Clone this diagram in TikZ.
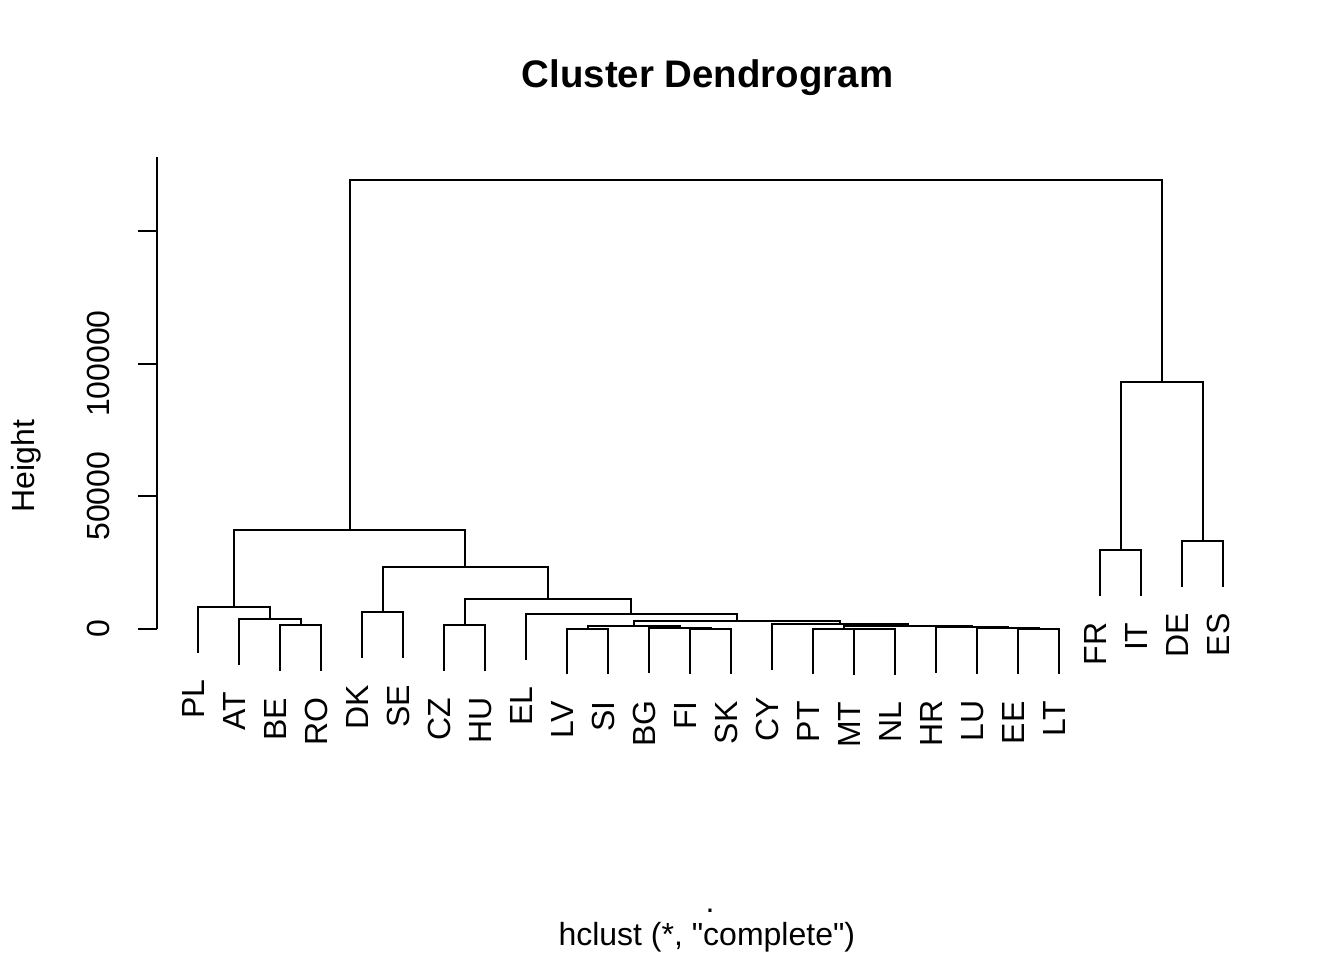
\documentclass[tikz,border=0pt]{standalone}
\usepackage{fontspec}
\setmainfont{Liberation Sans}
\newfontfamily\plainfont{Liberation Sans}
\begin{document}
\begin{tikzpicture}[x=20.5pt,y=13.27pt,line width=1pt]

		\tikzstyle{leaflabel}=[rotate=90,
		anchor=east,
		inner sep=0pt,
		font=\fontsize{16}{19}\selectfont
		]
		\tikzstyle{ticklabel}=[rotate=90,
		inner sep=0pt,
		font=\fontsize{16}{19}\selectfont
		]

		\useasboundingbox (-3.8293,-12.472) rectangle (28.9512,23.700);

		% leaf ends
		\coordinate (pPL) at (1, -0.89);
		\coordinate (pAT) at (2, -1.34);
		\coordinate (pBE) at (3, -1.57);
		\coordinate (pRO) at (4, -1.57);
		\coordinate (pDK) at (5, -1.08);
		\coordinate (pSE) at (6, -1.08);
		\coordinate (pCZ) at (7, -1.57);
		\coordinate (pHU) at (8, -1.57);
		\coordinate (pEL) at (9, -1.15);
		\coordinate (pLV) at (10, -1.71);
		\coordinate (pSI) at (11, -1.71);
		\coordinate (pBG) at (12, -1.67);
		\coordinate (pFI) at (13, -1.71);
		\coordinate (pSK) at (14, -1.71);
		\coordinate (pCY) at (15, -1.55);
		\coordinate (pPT) at (16, -1.705);
		\coordinate (pMT) at (17, -1.715);
		\coordinate (pNL) at (18, -1.715);
		\coordinate (pHR) at (19, -1.655);
		\coordinate (pLU) at (20, -1.685);
		\coordinate (pEE) at (21, -1.71);
		\coordinate (pLT) at (22, -1.71);
		\coordinate (pFR) at (23, 1.26);
		\coordinate (pIT) at (24, 1.26);
		\coordinate (pDE) at (25, 1.60);
		\coordinate (pES) at (26, 1.60);

		% merges
		\coordinate (mBERO) at (3.5, 0.15);
		\coordinate (mAT) at (2.75, 0.38);
		\coordinate (mPL) at (1.875, 0.83);
		\coordinate (mDKSE) at (5.5, 0.64);
		\coordinate (mCZHU) at (7.5, 0.15);
		\coordinate (mLVSI) at (10.5, 0.01);
		\coordinate (mFISK) at (13.5, 0.01);
		\coordinate (mBG) at (12.75, 0.05);
		\coordinate (mLV) at (11.625, 0.10);
		\coordinate (mMTNL) at (17.5, 0.005);
		\coordinate (mPT) at (16.75, 0.015);
		\coordinate (mEELT) at (21.5, 0.01);
		\coordinate (mLU) at (20.75, 0.035);
		\coordinate (mHR) at (19.875, 0.065);
		\coordinate (mPTHR) at (18.3125, 0.11);
		\coordinate (mCY) at (16.6563, 0.17);
		\coordinate (mLVCY) at (14.1406, 0.31);
		\coordinate (mEL) at (11.5703, 0.57);
		\coordinate (mCZ) at (9.5352, 1.13);
		\coordinate (mDK) at (7.5176, 2.34);
		\coordinate (mleft) at (4.6963, 3.73);
		\coordinate (mFRIT) at (23.5, 2.98);
		\coordinate (mDEES) at (25.5, 3.32);
		\coordinate (mright) at (24.5, 9.31);
		\coordinate (mtop) at (14.598, 16.92);

		% axis
		\coordinate (y0) at (0, 0);
		\coordinate (y5) at (0, 5);
		\coordinate (y10) at (0, 10);
		\coordinate (y15) at (0, 15);
		\coordinate (ytop) at (0, 17.78);

		\node[leaflabel] (PL) at ([xshift=-2.4pt,yshift=-13pt]pPL) {PL};
		\node[leaflabel] (AT) at ([xshift=-2.4pt,yshift=-13pt]pAT) {AT};
		\node[leaflabel] (BE) at ([xshift=-2.4pt,yshift=-13pt]pBE) {BE};
		\node[leaflabel] (RO) at ([xshift=-2.4pt,yshift=-13pt]pRO) {RO};
		\node[leaflabel] (DK) at ([xshift=-2.4pt,yshift=-13pt]pDK) {DK};
		\node[leaflabel] (SE) at ([xshift=-2.4pt,yshift=-13pt]pSE) {SE};
		\node[leaflabel] (CZ) at ([xshift=-2.4pt,yshift=-13pt]pCZ) {CZ};
		\node[leaflabel] (HU) at ([xshift=-2.4pt,yshift=-13pt]pHU) {HU};
		\node[leaflabel] (EL) at ([xshift=-2.4pt,yshift=-13pt]pEL) {EL};
		\node[leaflabel] (LV) at ([xshift=-2.4pt,yshift=-13pt]pLV) {LV};
		\node[leaflabel] (SI) at ([xshift=-2.4pt,yshift=-13pt]pSI) {SI};
		\node[leaflabel] (BG) at ([xshift=-2.4pt,yshift=-13pt]pBG) {BG};
		\node[leaflabel] (FI) at ([xshift=-2.4pt,yshift=-13pt]pFI) {FI};
		\node[leaflabel] (SK) at ([xshift=-2.4pt,yshift=-13pt]pSK) {SK};
		\node[leaflabel] (CY) at ([xshift=-2.4pt,yshift=-13pt]pCY) {CY};
		\node[leaflabel] (PT) at ([xshift=-2.4pt,yshift=-13pt]pPT) {PT};
		\node[leaflabel] (MT) at ([xshift=-2.4pt,yshift=-13pt]pMT) {MT};
		\node[leaflabel] (NL) at ([xshift=-2.4pt,yshift=-13pt]pNL) {NL};
		\node[leaflabel] (HR) at ([xshift=-2.4pt,yshift=-13pt]pHR) {HR};
		\node[leaflabel] (LU) at ([xshift=-2.4pt,yshift=-13pt]pLU) {LU};
		\node[leaflabel] (EE) at ([xshift=-2.4pt,yshift=-13pt]pEE) {EE};
		\node[leaflabel] (LT) at ([xshift=-2.4pt,yshift=-13pt]pLT) {LT};
		\node[leaflabel] (FR) at ([xshift=-2.4pt,yshift=-13pt]pFR) {FR};
		\node[leaflabel] (IT) at ([xshift=-2.4pt,yshift=-13pt]pIT) {IT};
		\node[leaflabel] (DE) at ([xshift=-2.4pt,yshift=-13pt]pDE) {DE};
		\node[leaflabel] (ES) at ([xshift=-2.4pt,yshift=-13pt]pES) {ES};

		\draw[-] (pBE) |- (mBERO) -| (pRO);
		\draw[-] (pAT) |- (mAT) -| (mBERO);
		\draw[-] (pPL) |- (mPL) -| (mAT);
		\draw[-] (pDK) |- (mDKSE) -| (pSE);
		\draw[-] (pCZ) |- (mCZHU) -| (pHU);
		\draw[-] (pLV) |- (mLVSI) -| (pSI);
		\draw[-] (pFI) |- (mFISK) -| (pSK);
		\draw[-] (pBG) |- (mBG) -| (mFISK);
		\draw[-] (mLVSI) |- (mLV) -| (mBG);
		\draw[-] (pMT) |- (mMTNL) -| (pNL);
		\draw[-] (pPT) |- (mPT) -| (mMTNL);
		\draw[-] (pEE) |- (mEELT) -| (pLT);
		\draw[-] (pLU) |- (mLU) -| (mEELT);
		\draw[-] (pHR) |- (mHR) -| (mLU);
		\draw[-] (mPT) |- (mPTHR) -| (mHR);
		\draw[-] (pCY) |- (mCY) -| (mPTHR);
		\draw[-] (mLV) |- (mLVCY) -| (mCY);
		\draw[-] (pEL) |- (mEL) -| (mLVCY);
		\draw[-] (mCZHU) |- (mCZ) -| (mEL);
		\draw[-] (mDKSE) |- (mDK) -| (mCZ);
		\draw[-] (mPL) |- (mleft) -| (mDK);
		\draw[-] (pFR) |- (mFRIT) -| (pIT);
		\draw[-] (pDE) |- (mDEES) -| (pES);
		\draw[-] (mFRIT) |- (mright) -| (mDEES);
		\draw[-] (mleft) |- (mtop) -| (mright);

		% height axis
		\draw[-] (y0) -- (ytop);
		\draw[-] (y0) -- ++(-0.463, 0);
		\draw[-] (y5) -- ++(-0.463, 0);
		\draw[-] (y10) -- ++(-0.463, 0);
		\draw[-] (y15) -- ++(-0.463, 0);
		\node[ticklabel] (t0) at (-1.42, 0) {0};
		\node[ticklabel] (t5) at (-1.42, 5) {50000};
		\node[ticklabel] (t10) at (-1.42, 10) {100000};

		\node[ticklabel] (ylab) at (-3.18, 6.14) {Height};
		\node[anchor=base, inner sep=0pt, font=\bfseries\fontsize{19.2}{23}\selectfont] (title) at (13.43, 20.42) {Cluster Dendrogram};
		\node[anchor=base, inner sep=0pt, font=\fontsize{16}{19}\selectfont] (dot) at (13.49, -10.70) {.};
		\node[anchor=base, inner sep=0pt, font=\plainfont\fontsize{16}{19}\selectfont] (sub) at (13.41, -11.91) {hclust (*, "complete")};

\end{tikzpicture}
\end{document}
